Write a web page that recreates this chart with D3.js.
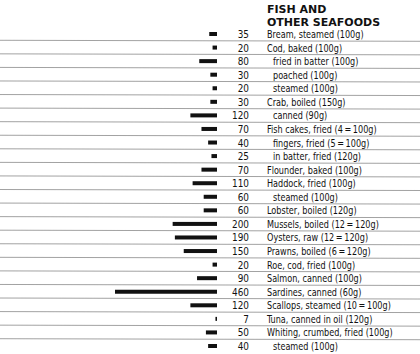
<!DOCTYPE html>
<html lang="en">
    <head>
        <meta charset="UTF-8" />
        <title>Fish and other seafoods</title>
        <script src="https://d3js.org/d3.v7.min.js"></script>
        <style>
            body { margin: 0; background: #fff; }
            .sep { stroke: #8a8a8a; stroke-width: 0.8px; }
            .bar { fill: #111; }
            .lbl, .val { font-family: "Liberation Sans Narrow", "DejaVu Sans Condensed", sans-serif; font-size: 11px; fill: #111; }
            .title { font-family: "DejaVu Sans", sans-serif; font-weight: bold; font-size: 11px; fill: #111; }
        </style>
    </head>
    <body>
        <svg width="420" height="354"></svg>

        <script>
            const width = 420;
            const height = 354;

            // data
            const titleLines = ["FISH AND", "OTHER SEAFOODS"];
            const labels = [
                "Bream, steamed (100g)", "Cod, baked (100g)", "fried in batter (100g)",
                "poached (100g)", "steamed (100g)", "Crab, boiled (150g)", "canned (90g)",
                "Fish cakes, fried (4\u2009=\u2009100g)", "fingers, fried (5\u2009=\u2009100g)",
                "in batter, fried (120g)", "Flounder, baked (100g)", "Haddock, fried (100g)",
                "steamed (100g)", "Lobster, boiled (120g)", "Mussels, boiled (12\u2009=\u2009120g)",
                "Oysters, raw (12\u2009=\u2009120g)", "Prawns, boiled (6\u2009=\u2009120g)",
                "Roe, cod, fried (100g)", "Salmon, canned (100g)", "Sardines, canned (60g)",
                "Scallops, steamed (10\u2009=\u2009100g)", "Tuna, canned in oil (120g)",
                "Whiting, crumbed, fried (100g)", "steamed (100g)"
            ];
            const subItem = [
                false, false, true, true, true, false, true, false, true, true, false, false,
                true, false, false, false, false, false, false, false, false, false, false, true
            ];
            const values = [35, 20, 80, 30, 20, 30, 120, 70, 40, 25, 70, 110, 60, 60, 200, 190, 150, 20, 90, 460, 120, 7, 50, 40];

            const svg = d3.select("svg");

            const y = d3.scalePoint()
                .domain(d3.range(labels.length))
                .range([34, 346]);
            const step = y.step();

            // bars grow leftwards from a common right edge
            const x = d3.scaleLinear().domain([0, 460]).range([217, 115]);

            // thin separator rules between rows
            svg.append("g")
                .selectAll("line")
                .data(d3.range(labels.length - 1))
                .join("line")
                .attr("class", "sep")
                .attr("x1", 0)
                .attr("x2", width)
                .attr("y1", (i) => y(i) + step / 2 - 0.5)
                .attr("y2", (i) => y(i) + step / 2 + 0.5);

            svg.append("g")
                .selectAll("rect")
                .data(values)
                .join("rect")
                .attr("class", "bar")
                .attr("x", (d) => x(d))
                .attr("width", (d) => Math.max(1.5, x(0) - x(d)))
                .attr("y", (d, i) => y(i) - 2)
                .attr("height", 4);

            svg.append("g")
                .selectAll("text")
                .data(values)
                .join("text")
                .attr("class", "val")
                .attr("transform", (d, i) => `translate(249,${y(i) + 4}) scale(0.9,1)`)
                .attr("text-anchor", "end")
                .text((d) => d);

            // the print uses a condensed face, so squeeze the labels a bit
            svg.append("g")
                .selectAll("text")
                .data(labels)
                .join("text")
                .attr("class", "lbl")
                .attr("transform", (d, i) => `translate(${subItem[i] ? 273 : 267},${y(i) + 4}) scale(0.82,1)`)
                .text((d) => d);

            svg.append("g")
                .selectAll("text")
                .data(titleLines)
                .join("text")
                .attr("class", "title")
                .attr("x", 267)
                .attr("y", (d, i) => 13 + i * 13)
                .text((d) => d);
        </script>
    </body>
</html>
